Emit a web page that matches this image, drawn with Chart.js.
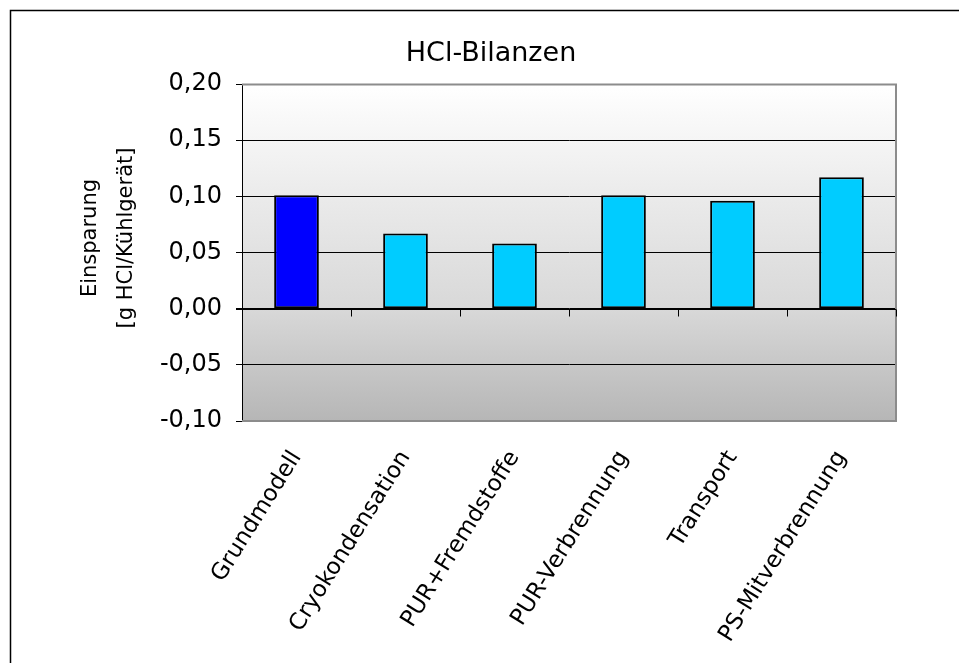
<!DOCTYPE html>
<html>
<head>
<meta charset="utf-8">
<title>HCl-Bilanzen</title>
<script src="https://cdn.jsdelivr.net/npm/chart.js@4.4.1/dist/chart.umd.min.js"></script>
<style>
    body { margin: 0; background: #ffffff; }
    #grafico { display: block; }
</style>
</head>
<body>
<canvas id="grafico" width="959" height="663"></canvas>
<script>
// dados do gráfico
var titulo = 'HCl-Bilanzen';
var categorias = ['Grundmodell', 'Cryokondensation', 'PUR+Fremdstoffe', 'PUR-Verbrennung', 'Transport', 'PS-Mitverbrennung'];
var einsparung = [0.101, 0.067, 0.058, 0.101, 0.096, 0.117];
var ticksY = [-0.10, -0.05, 0.00, 0.05, 0.10, 0.15, 0.20];
var tituloY = ['Einsparung', '[g HCl/Kühlgerät]'];

var fonte = "'DejaVu Sans', sans-serif";

// fundo em degradê, moldura, títulos e linha do zero
var fundoPlugin = {
    id: 'fundo',
    beforeDraw: function (chart) {
        var ctx = chart.ctx;
        var a = chart.chartArea;
        ctx.save();
        // moldura externa
        ctx.strokeStyle = '#000000';
        ctx.lineWidth = 1.5;
        ctx.beginPath();
        ctx.moveTo(10.5, 663);
        ctx.lineTo(10.5, 10.5);
        ctx.lineTo(959, 10.5);
        ctx.stroke();
        // título
        ctx.fillStyle = '#000000';
        ctx.font = '27px ' + fonte;
        ctx.textAlign = 'center';
        ctx.textBaseline = 'middle';
        ctx.fillText(titulo, 491, 54);
        // título do eixo Y (duas linhas)
        ctx.save();
        ctx.translate(0, 238);
        ctx.rotate(-Math.PI / 2);
        ctx.font = '21px ' + fonte;
        ctx.fillText(tituloY[0], 0, 91);
        ctx.fillText(tituloY[1], 0, 127);
        ctx.restore();
        // degradê da área do gráfico
        var g = ctx.createLinearGradient(0, a.top, 0, a.bottom);
        g.addColorStop(0, '#ffffff');
        g.addColorStop(0.33, '#ebebeb');
        g.addColorStop(0.67, '#d8d8d8');
        g.addColorStop(1, '#b6b6b6');
        ctx.fillStyle = g;
        ctx.fillRect(a.left, a.top, a.right - a.left, a.bottom - a.top);
        ctx.restore();
    },
    afterDatasetsDraw: function (chart) {
        var ctx = chart.ctx;
        var a = chart.chartArea;
        var x = chart.scales.x;
        var y0 = Math.round(chart.scales.y.getPixelForValue(0)) + 0.5;
        ctx.save();
        // borda cinza (em cima, direita e embaixo)
        ctx.strokeStyle = '#8c8c8c';
        ctx.lineWidth = 2;
        ctx.beginPath();
        ctx.moveTo(a.left, a.top + 0.5);
        ctx.lineTo(a.right, a.top + 0.5);
        ctx.lineTo(a.right, a.bottom);
        ctx.lineTo(a.left, a.bottom);
        ctx.stroke();
        // linha do zero com marcas
        ctx.strokeStyle = '#000000';
        ctx.lineWidth = 1;
        ctx.beginPath();
        ctx.moveTo(a.left - 6, y0);
        ctx.lineTo(a.right, y0);
        var meio = (x.getPixelForTick(1) - x.getPixelForTick(0)) / 2;
        for (var i = 0; i <= categorias.length; i++) {
            var px = Math.round(x.getPixelForTick(0) - meio + i * meio * 2) + 0.5;
            ctx.moveTo(px, y0);
            ctx.lineTo(px, y0 + 7);
        }
        ctx.stroke();
        ctx.restore();
    }
};

var dados = {
    labels: categorias,
    datasets: [
        {
            label: 'HCl',
            data: einsparung,
            backgroundColor: categorias.map(function (c, i) { return i == 0 ? '#0000ff' : '#00ccff'; }),
            borderColor: '#000000',
            borderWidth: 2,
            borderSkipped: false,
            barPercentage: 0.41,
            categoryPercentage: 1
        }
    ]
};

var config = {
    type: 'bar',
    data: dados,
    plugins: [fundoPlugin],
    options: {
        responsive: false,
        animation: false,
        layout: { padding: { left: 0, right: 63, top: 84, bottom: 0 } },
        plugins: {
            legend: { display: false },
            tooltip: { enabled: false },
            title: { display: false }
        },
        scales: {
            x: {
                grid: { display: false, drawTicks: false },
                border: { display: false },
                ticks: {
                    color: '#000000',
                    font: { family: fonte, size: 23 },
                    minRotation: 58,
                    maxRotation: 58,
                    padding: 25
                },
                afterFit: function (s) { s.height = 242; }
            },
            y: {
                min: -0.1,
                max: 0.2,
                afterBuildTicks: function (s) {
                    s.ticks = ticksY.map(function (v) { return { value: v }; });
                },
                grid: {
                    color: function (c) { return c.tick && c.tick.value > 0.19 ? '#8c8c8c' : '#000000'; },
                    tickColor: '#000000',
                    tickLength: 6
                },
                border: { display: true, color: '#000000', width: 1 },
                ticks: {
                    color: '#000000',
                    font: { family: fonte, size: 24 },
                    padding: 14,
                    callback: function (v) { return Number(v).toFixed(2).replace('.', ','); }
                },
                title: { display: false },
                afterFit: function (s) { s.width = 242; }
            }
        }
    }
};

var myChart = new Chart(document.getElementById('grafico'), config);
</script>
</body>
</html>
